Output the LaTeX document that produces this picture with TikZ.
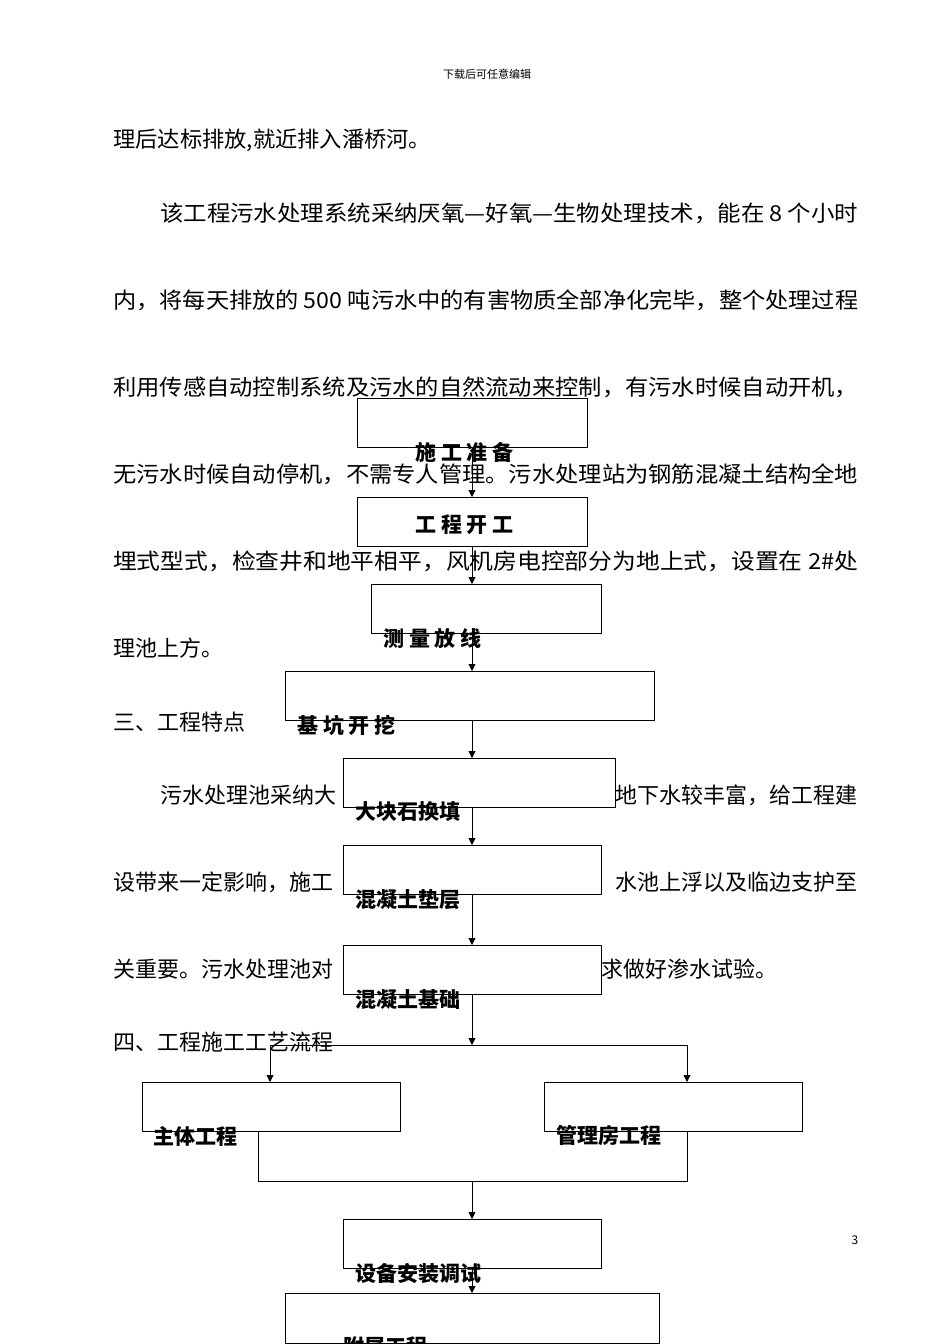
\documentclass[tikz,border=0pt]{standalone}
\usepackage{fontspec}
\usepackage{graphicx}
\setmainfont{Noto Sans CJK SC}
\usetikzlibrary{arrows.meta}
\newcommand{\fitw}[2]{\resizebox{#1}{\height}{#2}}
\begin{document}
\begin{tikzpicture}[x=1pt,y=-1pt,
  body/.style={anchor=west,inner sep=0pt,font=\fontsize{22}{22}\selectfont},
  bodyr/.style={anchor=east,inner sep=0pt,font=\fontsize{22}{22}\selectfont},
  lab/.style={anchor=west,inner sep=0pt,font=\fontsize{21}{21}\selectfont\bfseries},
  box/.style={draw,line width=0.9pt,fill=white},
  arr/.style={-{Triangle[length=7pt,width=7pt]},line width=0.9pt},
  ln/.style={line width=0.9pt}]
\useasboundingbox[fill=white] (0,0) rectangle (950,1344);
\node[inner sep=0pt,font=\fontsize{11}{11}\selectfont] (hdr) at (487,74) {下载后可任意编辑};
\node[inner sep=0pt,font=\fontsize{12}{12}\selectfont] (pg) at (855,1240) {3};
% body text
\node[body] (t1) at (113,140) {\fitw{318pt}{理后达标排放,就近排入潘桥河。}};
\node[body] (t2) at (160,213) {\fitw{698pt}{该工程污水处理系统采纳厌氧—好氧—生物处理技术，能在 8 个小时}};
\node[body] (t3) at (113,300) {\fitw{745pt}{内，将每天排放的 500 吨污水中的有害物质全部净化完毕，整个处理过程}};
\node[body] (t4) at (113,387) {\fitw{745pt}{利用传感自动控制系统及污水的自然流动来控制，有污水时候自动开机，}};
\node[body] (t5) at (113,474) {\fitw{745pt}{无污水时候自动停机，不需专人管理。污水处理站为钢筋混凝土结构全地}};
\node[body] (t6) at (113,561) {\fitw{745pt}{埋式型式，检查井和地平相平，风机房电控部分为地上式，设置在 2\#处}};
\node[body] (t7) at (113,648) {理池上方。};
\node[body] (t8) at (113,722) {三、工程特点};
\node[body] (t9a) at (160,795) {污水处理池采纳大};
\node[bodyr] (t9b) at (858,795) {地下水较丰富，给工程建};
\node[body] (t10a) at (113,882) {设带来一定影响，施工};
\node[bodyr] (t10b) at (858,882) {水池上浮以及临边支护至};
\node[body] (t11a) at (113,969) {关重要。污水处理池对};
\node[body] (t11b) at (601,969) {求做好渗水试验。};
\node[body] (t12) at (113,1042) {四、工程施工工艺流程};
% boxes
\path[box] (357,398) rectangle (587,447);
\path[box] (357,497) rectangle (587,546);
\path[box] (371,584) rectangle (601,633);
\path[box] (285,671) rectangle (654,720);
\path[box] (343,758) rectangle (615,807);
\path[box] (343,845) rectangle (601,894);
\path[box] (343,945) rectangle (601,994);
\path[box] (142,1082) rectangle (400,1131);
\path[box] (544,1082) rectangle (802,1131);
\path[box] (343,1219) rectangle (601,1268);
\path[box] (285,1293) rectangle (659,1343);
\coordinate (a1) at (472,447); \coordinate (a2) at (472,497);
\coordinate (a3) at (472,546); \coordinate (a4) at (472,584);
\coordinate (a5) at (472,633); \coordinate (a6) at (472,671);
\coordinate (a7) at (472,720); \coordinate (a8) at (472,758);
\coordinate (a9) at (472,807); \coordinate (a10) at (472,845);
\coordinate (a11) at (472,894); \coordinate (a12) at (472,945);
\coordinate (a13) at (472,994); \coordinate (a14) at (472,1045);
\coordinate (l1) at (270,1045); \coordinate (r1) at (687,1045);
\coordinate (l2) at (270,1082); \coordinate (r2) at (687,1082);
\coordinate (l3) at (258,1131); \coordinate (l4) at (258,1181);
\coordinate (r3) at (687,1131); \coordinate (r4) at (687,1181);
\coordinate (m1) at (472,1181); \coordinate (m2) at (472,1219);
\coordinate (m3) at (472,1268); \coordinate (m4) at (472,1293);
\draw[arr] (a1) -- (a2);
\draw[arr] (a3) -- (a4);
\draw[arr] (a5) -- (a6);
\draw[arr] (a7) -- (a8);
\draw[arr] (a9) -- (a10);
\draw[arr] (a11) -- (a12);
\draw[arr] (a13) -- (a14);
\draw[ln] (l1) -- (r1);
\draw[arr] (l1) -- (l2);
\draw[arr] (r1) -- (r2);
\draw[ln] (l3) -- (l4) -- (r4) -- (r3);
\draw[arr] (m1) -- (m2);
\draw[arr] (m3) -- (m4);
% labels
\node[lab] (n1) at (415,452) {施 工 准 备};
\node[lab] (n2) at (415,525) {工 程 开 工};
\node[lab] (n3) at (383,638) {测 量 放 线};
\node[lab] (n4) at (297,725) {基 坑 开 挖};
\node[lab] (n5) at (355,812) {大块石换填};
\node[lab] (n6) at (355,900) {混凝土垫层};
\node[lab] (n7) at (355,1000) {混凝土基础};
\node[lab] (n8) at (153,1136) {主体工程};
\node[lab] (n9) at (556,1136) {管理房工程};
\node[lab] (n10) at (355,1274) {设备安装调试};
\node[lab] (n11) at (343,1347) {附属工程};
\end{tikzpicture}
\end{document}
